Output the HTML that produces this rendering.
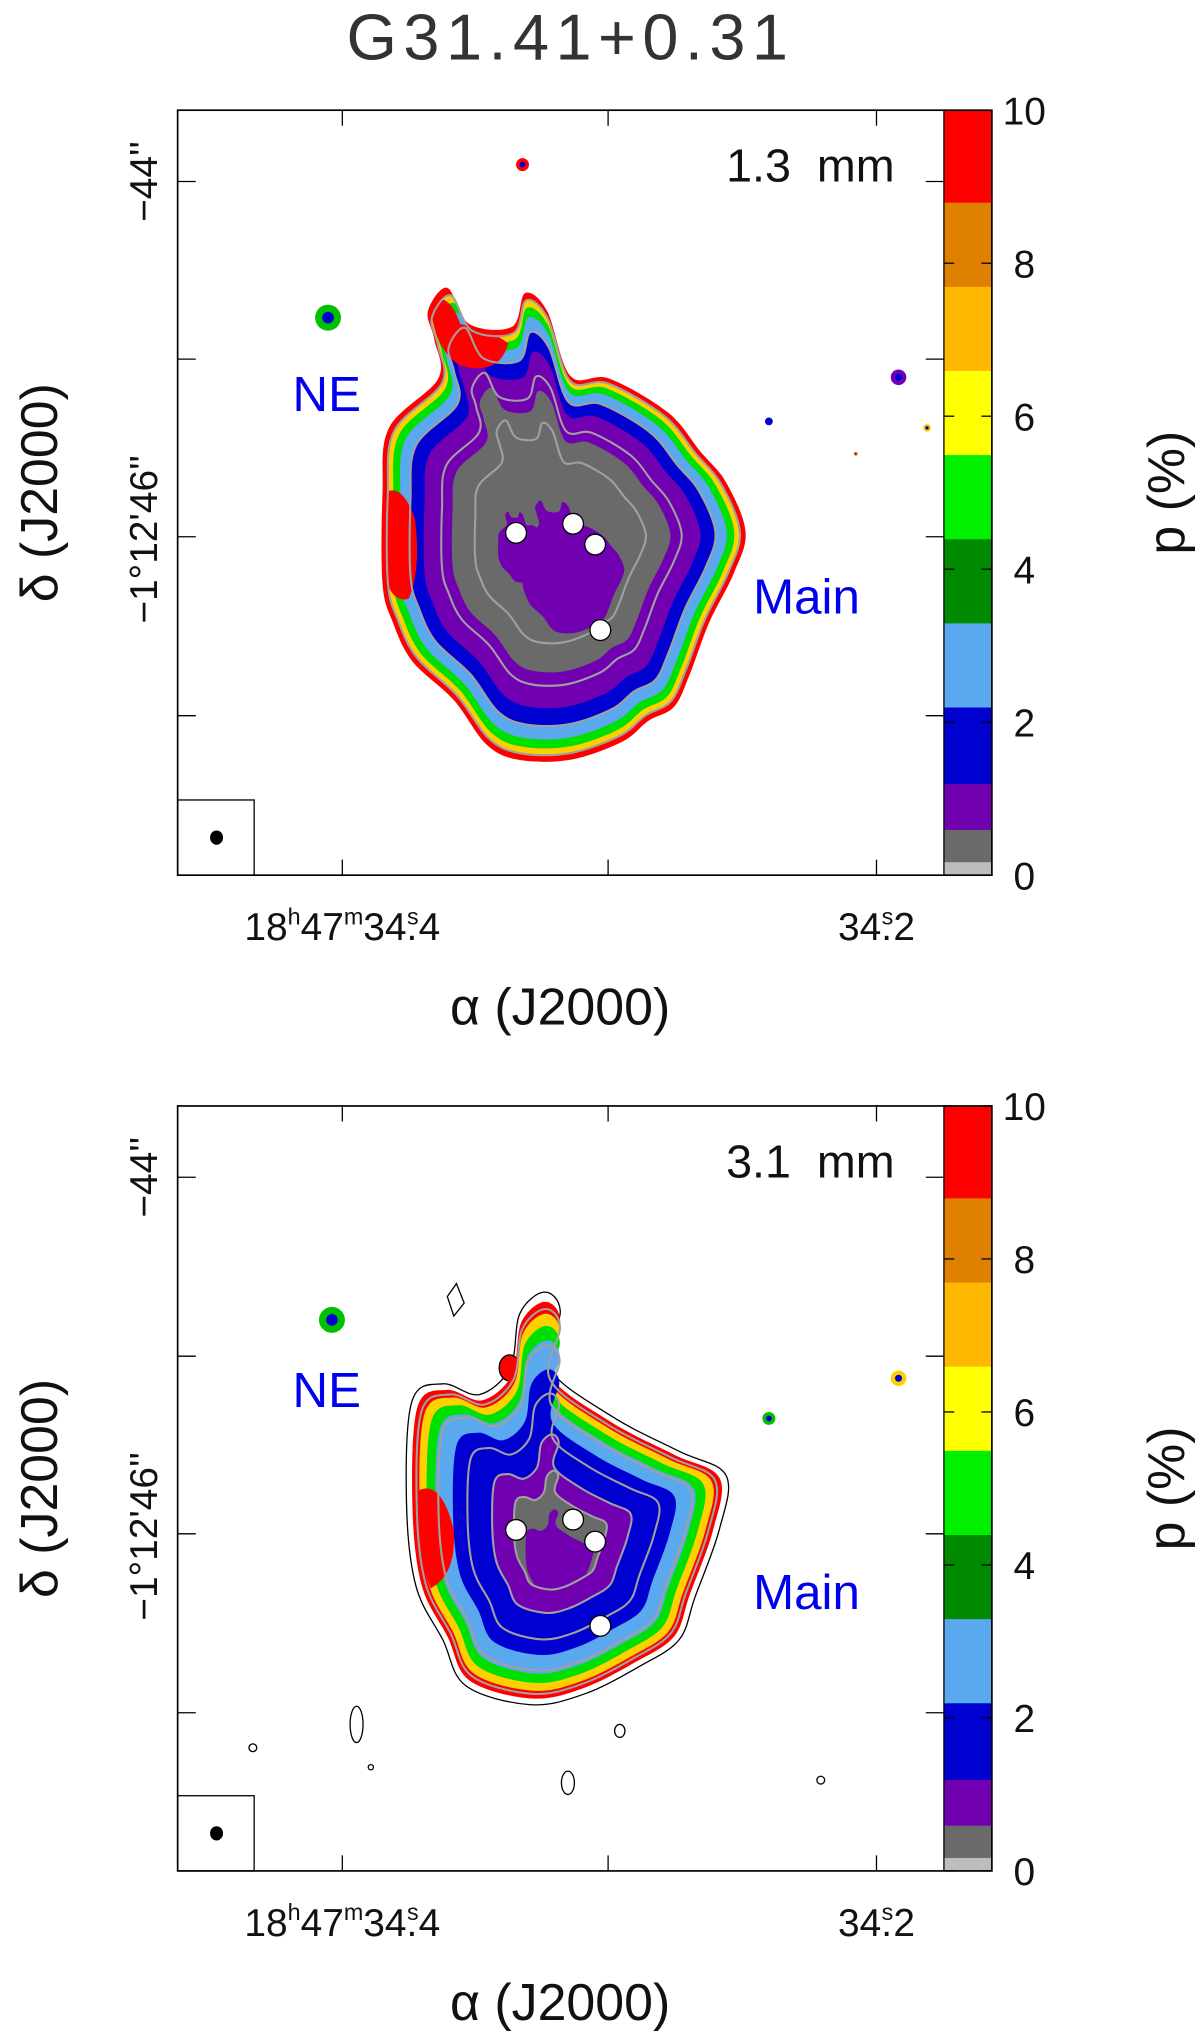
<!DOCTYPE html>
<html><head><meta charset="utf-8"><style>
html,body{margin:0;padding:0;background:#fff}
svg{display:block}
text{font-family:"Liberation Sans",sans-serif;}
</style></head><body>
<svg id="fig" width="1200" height="2033" viewBox="0 0 925.5 1568" xmlns="http://www.w3.org/2000/svg">
<text x="440" y="46" font-size="50" text-anchor="middle" fill="#333" letter-spacing="5">G31.41+0.31</text>
<g id="p1"></g>
<g id="p2"></g>
</svg>
<script>
const cbLevels=[0,0.6,1.2,2.2,3.3,4.4,5.5,6.6,7.7,8.8,10];
const cbColors=["#6a6a6a","#7000b0","#0000d0","#5aa8ee","#008a00","#00f000","#ffff00","#ffb800","#e08000","#ff0000"];
const cbTicks=[0,2,4,6,8,10];
const xTickLabels=["18h47m34.s4","34.s2"];
const panelLabels=["1.3 mm","3.1 mm"];
const NS="http://www.w3.org/2000/svg";
function mk(p,tag,attrs){const e=document.createElementNS(NS,tag);for(const k in attrs)e.setAttribute(k,attrs[k]);p.appendChild(e);return e;}
function smooth(pts,cx,cy,s,dx,dy){
  const P=pts.map(p=>[cx+(p[0]-cx)*s+(dx||0),cy+(p[1]-cy)*s+(dy||0)]);
  const n=P.length;let d=`M${P[0][0].toFixed(1)},${P[0][1].toFixed(1)}`;
  for(let i=0;i<n;i++){const p0=P[(i-1+n)%n],p1=P[i],p2=P[(i+1)%n],p3=P[(i+2)%n];
    const c1=[p1[0]+(p2[0]-p0[0])/6,p1[1]+(p2[1]-p0[1])/6],c2=[p2[0]-(p3[0]-p1[0])/6,p2[1]-(p3[1]-p1[1])/6];
    d+=`C${c1[0].toFixed(1)},${c1[1].toFixed(1)} ${c2[0].toFixed(1)},${c2[1].toFixed(1)} ${p2[0].toFixed(1)},${p2[1].toFixed(1)}`;}
  return d+'Z';}
const blob1=[[330,240],[345,222],[362,250],[395,252],[405,226],[422,240],[440,290],[470,292],[515,318],[540,348],[560,372],[575,410],[566,442],[547,480],[532,520],[520,545],[500,556],[480,572],[440,586],[400,586],[375,574],[350,540],[318,510],[303,480],[295,450],[295,380],[300,330],[338,292],[335,262]];
const blob2=[[322,1085],[345,1072],[372,1080],[395,1060],[402,1020],[420,1004],[432,1018],[424,1060],[470,1096],[520,1122],[555,1140],[550,1180],[532,1230],[520,1262],[490,1282],[450,1302],[410,1310],[362,1296],[345,1262],[325,1222],[318,1160]];
function panel(g,top,idx){
  const L=137,R=728,CR=765,B=top+590;
  const yr=v=>B-(v/10)*(B-top);
  for(let i=0;i<cbColors.length;i++){
    const r=mk(g,'rect',{x:R,y:yr(cbLevels[i+1]),width:CR-R,height:yr(cbLevels[i])-yr(cbLevels[i+1])+0.5,fill:cbColors[i]});
    
    
  }
  mk(g,'rect',{x:R,y:B-10,width:CR-R,height:10,fill:"#bdbdbd"});
  cbTicks.forEach(v=>{
    const t=mk(g,'text',{x:790,y:yr(v)+11,'font-size':30,'text-anchor':'middle',fill:'#111'});t.textContent=v;
    
    
    mk(g,'line',{x1:R,x2:R+8,y1:yr(v),y2:yr(v),stroke:'#000','stroke-width':1});
    mk(g,'line',{x1:CR,x2:CR-8,y1:yr(v),y2:yr(v),stroke:'#000','stroke-width':1});
  });
  const cl=mk(g,'text',{x:0,y:0,'font-size':40,'text-anchor':'middle',fill:'#111',transform:`translate(913,${top+295}) rotate(-90)`});cl.textContent="p (%)";
  
  const cx=430, cy=idx?1190:415;
  const bl=idx?blob2:blob1;
  if(idx){
    mk(g,'path',{d:smooth(bl,cx,cy,1.04),fill:'none',stroke:'#000','stroke-width':1});
    [[275,1330,5,14],[438,1375,5,9],[478,1335,4,5],[195,1348,3,3],[286,1363,2,2],[633,1373,3,3]].forEach(c=>mk(g,'ellipse',{cx:c[0],cy:c[1],rx:c[2],ry:c[3],fill:'none',stroke:'#000','stroke-width':1}));
    mk(g,'polygon',{points:"345,1000 352,990 358,1005 350,1015",fill:'none',stroke:'#000','stroke-width':1});
    mk(g,'ellipse',{cx:393,cy:1055,rx:8,ry:10,fill:'#ff0000',stroke:'#000','stroke-width':1});
  }
  const scales=idx?[1.0,0.95,0.9,0.84,0.72,0.45,0.3]:[1.0,0.97,0.94,0.9,0.84,0.76,0.6];
  const cols=["#ff0000","#ffd000","#00e000","#5aa8ee","#0000d0","#7000b0","#6a6a6a"];
  scales.forEach((s,i)=>mk(g,'path',{d:smooth(bl,cx,cy,s),fill:cols[i]}));
  if(!idx){
    mk(g,'path',{d:smooth(bl,cx+15,cy+35,0.28),fill:'#7000b0'});
    mk(g,'path',{d:smooth(bl,cx-30,cy+10,0.15),fill:'#7000b0'});
    mk(g,'path',{d:"M297,380 Q310,372 320,400 Q325,440 315,462 Q300,465 297,440Z",fill:'#ff0000'});
    mk(g,'path',{d:"M332,235 Q345,222 355,250 Q380,255 392,265 Q385,290 355,282 Q335,270 332,235Z",fill:'#ff0000'});
  } else {
    mk(g,'path',{d:"M322,1150 Q340,1140 350,1180 Q352,1215 332,1225 Q320,1190 322,1150Z",fill:'#ff0000'});
    mk(g,'path',{d:smooth(bl,cx,cy,0.22,0,15),fill:'#7000b0'});
  }
  (idx?[0.97,0.82,0.62,0.45,0.3]:[0.97,0.84,0.66,0.47]).forEach(s=>mk(g,'path',{d:smooth(bl,cx,cy,s),fill:'none',stroke:'#a0a0a0','stroke-width':1.6}));
  const srcs=idx?[[256,1018,10,"#00c000"],[693,1063,6,"#ffd000"],[593,1094,5,"#00c000"]]:[[403,127,5,"#ff0000"],[253,245,10,"#00c000"],[693,291,6,"#7000b0"],[593,325,3,"#0000d0"],[715,330,3,"#ffd000"],[660,350,1.5,"#ff8000"]];
  srcs.forEach(s=>{mk(g,'circle',{cx:s[0],cy:s[1],r:s[2],fill:s[3]});mk(g,'circle',{cx:s[0],cy:s[1],r:s[2]*0.45,fill:'#0000d0'});});
  const cores=idx?[[398,1180],[442,1172],[459,1189],[463,1254]]:[[398,411],[442,404],[459,420],[463,486]];
  cores.forEach(c=>{const e=mk(g,'circle',{cx:c[0],cy:c[1],r:8,fill:'#fff',stroke:'#000','stroke-width':1});});
  mk(g,'rect',{x:L,y:top,width:CR-L,height:B-top,fill:'none',stroke:'#000','stroke-width':1.3});
  mk(g,'line',{x1:R,x2:R,y1:top,y2:B,stroke:'#000','stroke-width':1});
  [264,469,676].forEach(x=>{mk(g,'line',{x1:x,x2:x,y1:B,y2:B-12,stroke:'#000'});mk(g,'line',{x1:x,x2:x,y1:top,y2:top+12,stroke:'#000'});});
  const yt=idx?[908,1046,1183,1321]:[140,277,414,552];
  yt.forEach(y=>{mk(g,'line',{x1:L,x2:L+14,y1:y,y2:y,stroke:'#000'});mk(g,'line',{x1:R,x2:R-14,y1:y,y2:y,stroke:'#000'});});
  mk(g,'rect',{x:L,y:B-58,width:59,height:58,fill:'none',stroke:'#000'});
  mk(g,'ellipse',{cx:167,cy:B-29,rx:5,ry:5.5,fill:'#000'});
  const pl=mk(g,'text',{x:690,y:top+55,'font-size':36,'text-anchor':'end',fill:'#111'});pl.textContent=panelLabels[idx].replace(' ','\u00a0\u00a0');
  
  const ne=mk(g,'text',{x:252,y:top+232,'font-size':38,'text-anchor':'middle',fill:'#0000ee'});ne.textContent="NE";
  
  const mn=mk(g,'text',{x:622,y:top+388,'font-size':38,'text-anchor':'middle',fill:'#0000ee'});mn.textContent="Main";
  
  const xl=mk(g,'text',{x:264,y:B+50,'font-size':30,'text-anchor':'middle',fill:'#111'});
  xl.innerHTML='18<tspan dy="-12" font-size="18">h</tspan><tspan dy="12">47</tspan><tspan dy="-12" font-size="18">m</tspan><tspan dy="12">34.</tspan><tspan dy="-12" font-size="18" dx="-8">s</tspan><tspan dy="12">4</tspan>';
  
  const xr=mk(g,'text',{x:676,y:B+50,'font-size':30,'text-anchor':'middle',fill:'#111'});
  xr.innerHTML='34.<tspan dy="-12" font-size="18" dx="-8">s</tspan><tspan dy="12">2</tspan>';
  
  const xa=mk(g,'text',{x:432,y:B+115,'font-size':40,'text-anchor':'middle',fill:'#111'});xa.textContent="α (J2000)";
  
  const y1=mk(g,'text',{x:0,y:0,'font-size':30,'text-anchor':'middle',fill:'#111',transform:`translate(121,${yt[0]}) rotate(-90)`});y1.textContent="−44''";
  
  const y2=mk(g,'text',{x:0,y:0,'font-size':30,'text-anchor':'middle',fill:'#111',transform:`translate(121,${yt[2]+2}) rotate(-90)`});y2.textContent="−1°12'46''";
  
  const ya=mk(g,'text',{x:0,y:0,'font-size':40,'text-anchor':'middle',fill:'#111',transform:`translate(44,${top+295}) rotate(-90)`});ya.textContent="δ (J2000)";
  
}
panel(document.getElementById('p1'),85,0);
panel(document.getElementById('p2'),853,1);
</script>
</body></html>
